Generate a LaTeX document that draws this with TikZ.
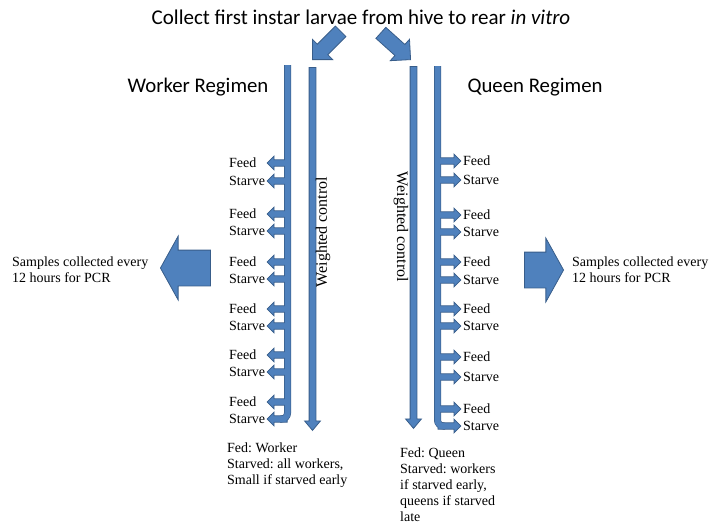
\documentclass[tikz,border=0pt]{standalone}
\usepackage{fontspec}
\setmainfont{Liberation Serif}
\newfontfamily\calibri{Carlito}
\usetikzlibrary{shapes.arrows}
\frenchspacing
\definecolor{barfill}{RGB}{79,129,189}
\definecolor{barline}{RGB}{56,93,138}
\tikzset{
  fat/.style={single arrow, fill=barfill, draw=barline, line width=0.8pt, inner xsep=0pt,
    single arrow head indent=0pt},
  side/.style={fat, minimum height=#1, inner ysep=2.8pt, single arrow head extend=3.7pt,
    anchor=tail},
  bar/.style={barfill, line width=5.5pt, preaction={draw=barline, line width=7pt}},
  barcore/.style={barfill, line width=5.5pt},
  lab/.style={font=\fontsize{14}{16}\selectfont, inner sep=0pt, align=left},
  head/.style={font=\calibri\fontsize{20.8}{24}\selectfont, inner sep=0pt},
}
\begin{document}
\begin{tikzpicture}[x=1pt,y=-1pt]
\useasboundingbox (0,0) rectangle (711,525);
% title and the two arrows into the regimens
\node[font=\calibri\fontsize{21}{24}\selectfont, inner sep=0pt] (title) at (361,17)
  {Collect first instar larvae from hive to rear \textit{in vitro}};
\node[fat, minimum height=40pt, inner ysep=7pt, single arrow head extend=7pt,
  rotate=225, anchor=tip] (toW) at (312,60) {};
\node[fat, minimum height=40pt, inner ysep=7pt, single arrow head extend=7pt,
  rotate=-42, anchor=tip] (toQ) at (411,60) {};
\node[head] (worker) at (198,87) {Worker Regimen};
\node[head] (queen) at (535,87) {Queen Regimen};

% weighted controls
\node[fat, minimum height=363pt, inner ysep=3pt, single arrow head extend=4.5pt,
  single arrow tip angle=80, rotate=-90, anchor=tail] (ctrlW) at (312.5,67) {};
\node[fat, minimum height=362pt, inner ysep=3pt, single arrow head extend=4.5pt,
  single arrow tip angle=80, rotate=-90, anchor=tail] (ctrlQ) at (413.5,66) {};
\node[lab, font=\fontsize{16}{18}\selectfont, rotate=90] (wtW) at (323,232) {Weighted control};
\node[lab, font=\fontsize{16}{18}\selectfont, rotate=-90] (wtQ) at (401,227) {Weighted control};

% worker regimen
\draw[bar, rounded corners=6pt] (287.5,65) -- (287.5,419) -- (280,419);
\foreach \yf/\ys [count=\i] in {163/181,214/231,262/279,309/326,355/372,402/419}{
  \node[side=20pt, rotate=180] (wf\i) at (287.5,\yf) {};
  \node[side=20pt, rotate=180] (ws\i) at (287.5,\ys) {};
  \node[lab, anchor=west] (wfl\i) at (229,\yf) {Feed};
  \node[lab, anchor=west] (wsl\i) at (229,\ys) {Starve};
}
\draw[barcore, rounded corners=6pt] (287.5,65.5) -- (287.5,419) -- (280,419);

% queen regimen
\draw[bar, rounded corners=6pt] (437.5,66) -- (437.5,426) -- (445,426);
\foreach \yf/\ys [count=\i] in {161/180,215/232,262/280,309/326,357/377,409/426}{
  \node[side=23pt] (qf\i) at (437.5,\yf) {};
  \node[side=23pt] (qs\i) at (437.5,\ys) {};
  \node[lab, anchor=west] (qfl\i) at (463,\yf) {Feed};
  \node[lab, anchor=west] (qsl\i) at (463,\ys) {Starve};
}
\draw[barcore, rounded corners=6pt] (437.5,66.5) -- (437.5,426) -- (445,426);

% outcomes
\node[lab, anchor=north west] (wres) at (227,443)
  {Fed: Worker\\Starved: all workers,\\Small if starved early};
\node[lab, anchor=north west] (qres) at (400,448)
  {Fed: Queen\\Starved: workers\\if starved early,\\queens if starved\\late};

% sampling
\node[fat, minimum height=50pt, inner ysep=17.5pt, single arrow head extend=14pt,
  single arrow tip angle=122, rotate=180, anchor=tip] (pcrW) at (160,268) {};
\node[fat, minimum height=39pt, inner ysep=17.5pt, single arrow head extend=14pt,
  single arrow tip angle=122, anchor=tip] (pcrQ) at (564,270) {};
\node[lab, anchor=west] (sW) at (12,270) {Samples collected every\\12 hours for PCR};
\node[lab, anchor=west] (sQ) at (572,270) {Samples collected every\\12 hours for PCR};
\end{tikzpicture}
\end{document}
